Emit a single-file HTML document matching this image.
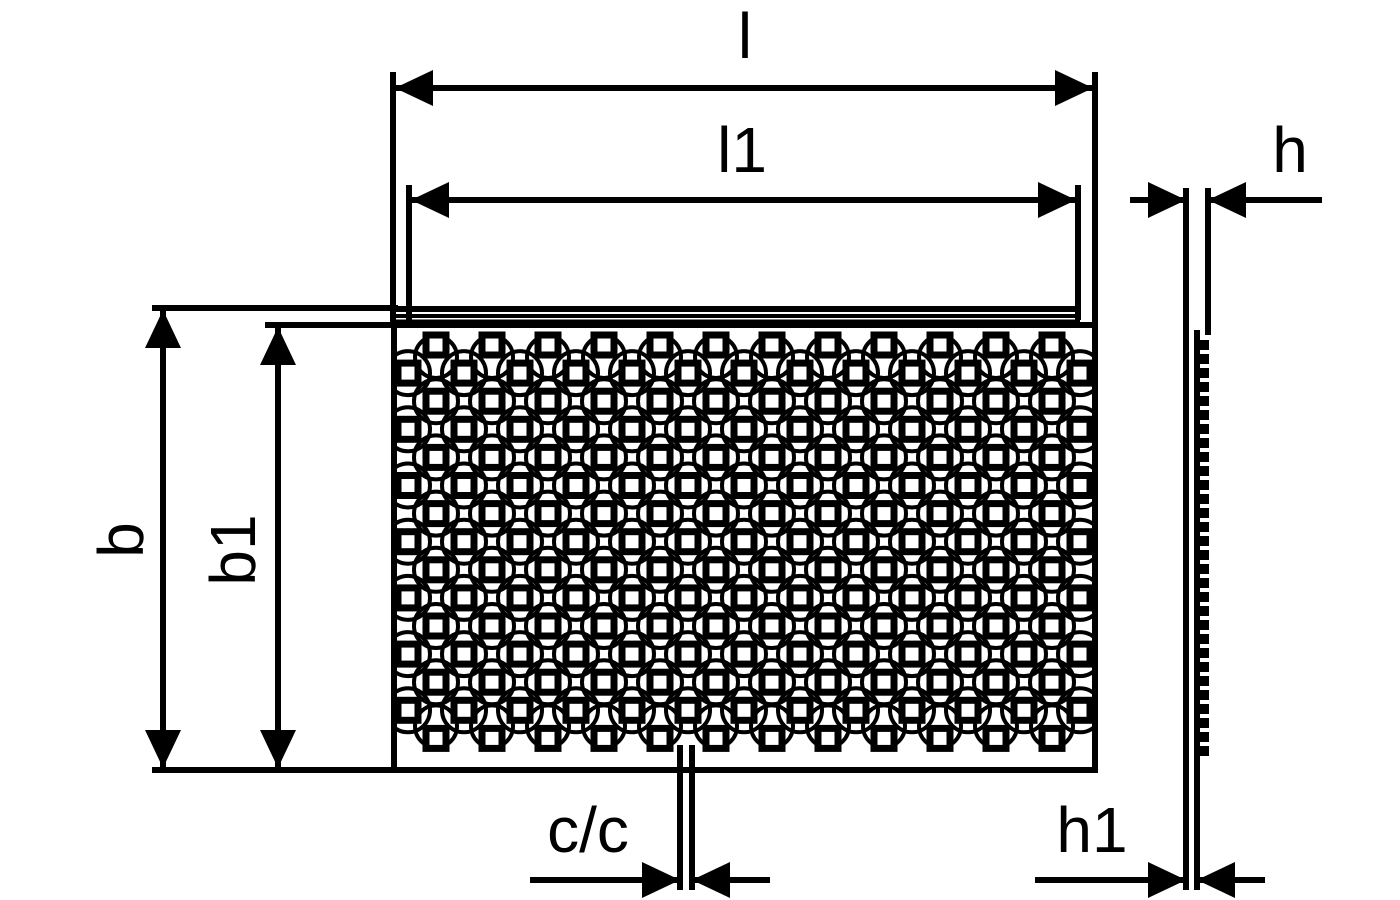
<!DOCTYPE html>
<html><head><meta charset="utf-8"><style>html,body{margin:0;padding:0;background:#fff;width:1400px;height:900px;overflow:hidden}text{font-family:"Liberation Sans",Arial,sans-serif;fill:#000}</style></head>
<body>
<svg id="s" width="1400" height="900" viewBox="0 0 1400 900" xmlns="http://www.w3.org/2000/svg">
<defs><clipPath id="cp"><rect x="397" y="328" width="695" height="439"/></clipPath></defs>
<g stroke="#000" fill="none">
<rect x="394" y="325" width="701" height="445" stroke-width="6"/>
<line x1="394" y1="309" x2="1080" y2="309" stroke-width="6"/>
<line x1="394" y1="316" x2="1080" y2="316" stroke-width="4"/>
<line x1="394" y1="322" x2="1080" y2="322" stroke-width="5"/>
<g id="grid" clip-path="url(#cp)"></g>
<line x1="393" y1="72" x2="393" y2="325" stroke-width="6"/>
<line x1="1095" y1="72" x2="1095" y2="325" stroke-width="6"/>
<line x1="395" y1="88" x2="1093" y2="88" stroke-width="6"/>
<line x1="409" y1="185" x2="409" y2="320" stroke-width="6"/>
<line x1="1078" y1="185" x2="1078" y2="320" stroke-width="6"/>
<line x1="411" y1="200" x2="1076" y2="200" stroke-width="6"/>
<line x1="152" y1="308" x2="398" y2="308" stroke-width="6"/>
<line x1="152" y1="770" x2="393" y2="770" stroke-width="6"/>
<line x1="265" y1="325" x2="393" y2="325" stroke-width="6"/>
<line x1="163" y1="310" x2="163" y2="768" stroke-width="6"/>
<line x1="278" y1="327" x2="278" y2="768" stroke-width="6"/>
<line x1="1186" y1="188" x2="1186" y2="328" stroke-width="6"/>
<line x1="1208" y1="188" x2="1208" y2="335" stroke-width="6"/>
<line x1="1130" y1="200" x2="1186" y2="200" stroke-width="6"/>
<line x1="1208" y1="200" x2="1322" y2="200" stroke-width="6"/>
<line x1="1186" y1="305" x2="1186" y2="890" stroke-width="6"/>
<line x1="1197" y1="330" x2="1197" y2="890" stroke-width="6"/>
<g id="nubs"></g>
<line x1="1035" y1="880" x2="1186" y2="880" stroke-width="6"/>
<line x1="1197" y1="880" x2="1265" y2="880" stroke-width="6"/>
<line x1="680" y1="745" x2="680" y2="890" stroke-width="6"/>
<line x1="692" y1="745" x2="692" y2="890" stroke-width="6"/>
<line x1="530" y1="880" x2="680" y2="880" stroke-width="6"/>
<line x1="692" y1="880" x2="770" y2="880" stroke-width="6"/>
</g>
<g fill="#000">
<polygon points="395,88 433,70 433,106"/>
<polygon points="1093,88 1055,70 1055,106"/>
<polygon points="411,200 449,182 449,218"/>
<polygon points="1076,200 1038,182 1038,218"/>
<polygon points="163,310 145,348 181,348"/>
<polygon points="163,768 145,730 181,730"/>
<polygon points="278,327 260,365 296,365"/>
<polygon points="278,768 260,730 296,730"/>
<polygon points="1186,200 1148,182 1148,218"/>
<polygon points="1208,200 1246,182 1246,218"/>
<polygon points="1186,880 1148,862 1148,898"/>
<polygon points="1197,880 1235,862 1235,898"/>
<polygon points="680,880 642,862 642,898"/>
<polygon points="692,880 730,862 730,898"/>
</g>
<text x="745" y="58" font-size="64" text-anchor="middle">l</text>
<text x="742" y="172" font-size="64" text-anchor="middle">l1</text>
<text x="1290" y="172" font-size="64" text-anchor="middle">h</text>
<text x="588" y="852" font-size="64" text-anchor="middle">c/c</text>
<text x="1092" y="852" font-size="64" text-anchor="middle">h1</text>
<text transform="translate(143,540) rotate(-90)" font-size="64" text-anchor="middle">b</text>
<text transform="translate(255,550) rotate(-90)" font-size="64" text-anchor="middle">b1</text>
</svg>
<script>
var NS="http://www.w3.org/2000/svg",g=document.getElementById('grid');
function el(n,a,p){var e=document.createElementNS(NS,n);for(var k in a)e.setAttribute(k,a[k]);p.appendChild(e);return e;}
for(var r=0;r<15;r++){var y=345+r*28.1;var odd=r%2==1;var x0=odd?408:436;var n=odd?13:12;
 for(var c=0;c<n;c++){var x=x0+c*56;
  if(r>0&&r<14)el('circle',{cx:x,cy:y,r:22,'stroke-width':4},g);
  else el('circle',{cx:x,cy:y+(r==0?12:-12),r:21,'stroke-width':4},g);
 }}
for(var r=0;r<15;r++){var y=345+r*28.1;var odd=r%2==1;var x0=odd?408:436;var n=odd?13:12;
 for(var c=0;c<n;c++){var x=x0+c*56;
  el('rect',{x:x-10,y:y-10,width:20,height:20,fill:'#fff','stroke-width':7},g);
 }}
var nb=document.getElementById('nubs');
for(var y=340;y<750;y+=14){el('rect',{x:1200,y:y,width:9,height:10,fill:'#000',stroke:'none'},nb);}
</script>
</body></html>
